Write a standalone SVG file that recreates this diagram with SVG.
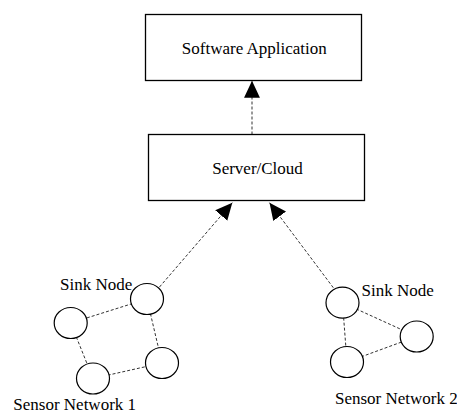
<svg xmlns="http://www.w3.org/2000/svg" width="457" height="413" viewBox="0 0 457 413">
<style>
.box{fill:#fff;stroke:#000;stroke-width:1.3}
.node{fill:#fff;stroke:#000;stroke-width:1.2}
.lbl{font-family:"Liberation Serif","Times New Roman",serif;font-size:17px;fill:#000}
.link{stroke:#333;stroke-width:1;stroke-dasharray:3,2;fill:none}
.arrow{stroke:#333;stroke-width:1;stroke-dasharray:3,2;fill:none;marker-end:url(#head)}
</style>
<defs>
<marker id="head" markerUnits="userSpaceOnUse" markerWidth="18" markerHeight="18" viewBox="0 -8 17 16" refX="16" refY="0" orient="auto">
<path d="M0,-7.5 L16,0 L0,7.5 Z" fill="#000"/>
</marker>
</defs>
<rect width="457" height="413" fill="#fff"/>
<g id="connectors">
<line class="arrow" x1="252" y1="134.5" x2="252" y2="80.7"/>
<line class="arrow" x1="159.5" y1="287" x2="232.3" y2="202.7"/>
<line class="arrow" x1="333.3" y1="287.7" x2="269.5" y2="202.7"/>
<line class="link" x1="147" y1="299" x2="70.7" y2="323"/>
<line class="link" x1="147" y1="299" x2="162" y2="363"/>
<line class="link" x1="70.7" y1="323" x2="93" y2="378.5"/>
<line class="link" x1="93" y1="378.5" x2="162" y2="363"/>
<line class="link" x1="342.5" y1="302.7" x2="347" y2="362"/>
<line class="link" x1="342.5" y1="302.7" x2="416.7" y2="336.5"/>
<line class="link" x1="347" y1="362" x2="416.7" y2="336.5"/>
</g>
<g id="software">
<rect class="box" x="145.5" y="14.5" width="216" height="66"/>
<text class="lbl" x="254.3" y="54.3" text-anchor="middle">Software Application</text>
</g>
<g id="server">
<rect class="box" x="148.5" y="134.5" width="216" height="66"/>
<text class="lbl" x="257.5" y="174.3" text-anchor="middle">Server/Cloud</text>
</g>
<g id="sink1">
<ellipse class="node" cx="147" cy="299" rx="16.5" ry="15.5"/>
<text class="lbl" x="60" y="289.5">Sink Node</text>
</g>
<g id="n1a"><ellipse class="node" cx="70.7" cy="323" rx="16.5" ry="15.5"/></g>
<g id="n1b"><ellipse class="node" cx="162" cy="363" rx="16.5" ry="15.5"/></g>
<g id="n1c"><ellipse class="node" cx="93" cy="378.5" rx="16.5" ry="15.5"/></g>
<g id="net1label"><text class="lbl" x="13.3" y="409.5">Sensor Network 1</text></g>
<g id="sink2">
<ellipse class="node" cx="342.5" cy="302.7" rx="16.5" ry="15.5"/>
<text class="lbl" x="361.5" y="296">Sink Node</text>
</g>
<g id="n2a"><ellipse class="node" cx="416.7" cy="336.5" rx="16.5" ry="15.5"/></g>
<g id="n2b"><ellipse class="node" cx="347" cy="362" rx="16.5" ry="15.5"/></g>
<g id="net2label"><text class="lbl" x="335" y="404">Sensor Network 2</text></g>
</svg>
